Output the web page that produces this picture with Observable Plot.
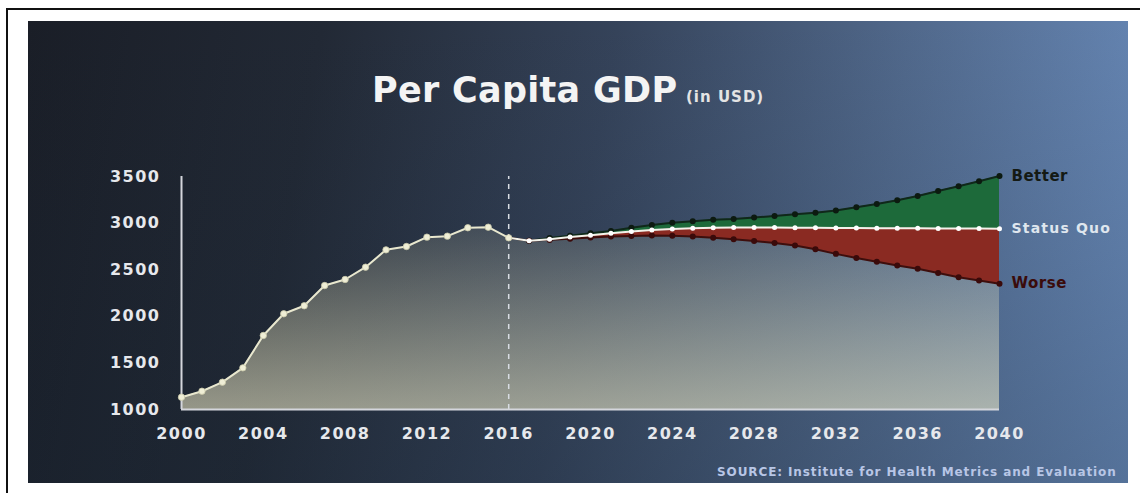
<!DOCTYPE html>
<html>
<head>
<meta charset="utf-8">
<script src="https://cdn.jsdelivr.net/npm/d3@7"></script>
<script src="https://cdn.jsdelivr.net/npm/@observablehq/plot@0.6"></script>
<style>
  html, body { margin: 0; padding: 0; background: #ffffff; }
  #page { position: relative; width: 1140px; height: 493px; overflow: hidden; background: #fff; }
  #frame { position: absolute; left: 6px; top: 8px; width: 1140px; height: 490px; border-top: 2px solid #111; border-left: 2px solid #111; }
  #panel { position: absolute; left: 28px; top: 21px; width: 1100px; height: 462px;
    background: linear-gradient(100deg, #1a1e27 0%, #222935 25%, #35435a 50%, #51698c 75%, #6a8cbc 100%); }
  #panel2 { position: absolute; left: 28px; top: 21px; width: 1100px; height: 462px;
    background: linear-gradient(180deg, rgba(0,0,0,0) 0%, rgba(20,35,50,0.25) 100%); }
  #chart { position: absolute; left: 0; top: 0; }
  .txt { position: absolute; white-space: nowrap; font-family: "DejaVu Sans", sans-serif; line-height: 1; }
</style>
</head>
<body>
<div id="page">
  <div id="frame"></div>
  <div id="panel"></div>
  <div id="panel2"></div>
  <div id="chart"></div>
  <div class="txt" style="left:372px; top:73px; font-size:35px; font-weight:bold; color:#f4f4f4; letter-spacing:0.3px;">Per Capita GDP</div>
  <div class="txt" style="left:686px; top:90px; font-size:15px; font-weight:bold; color:#e4e4e4; letter-spacing:1px;">(in USD)</div>
  <div class="txt" style="left:717px; top:466px; font-size:12px; font-weight:bold; color:#b8c6e6; letter-spacing:0.9px;">SOURCE: Institute for Health Metrics and Evaluation</div>
</div>
<script>
// Historical data
const histYears = [2000,2001,2002,2003,2004,2005,2006,2007,2008,2009,2010,2011,2012,2013,2014,2015,2016];
const histGDP   = [1132,1196,1293,1447,1794,2027,2113,2330,2395,2527,2713,2749,2849,2860,2950,2956,2842];

// Forecast scenarios
const fcYears   = [2016,2017,2018,2019,2020,2021,2022,2023,2024,2025,2026,2027,2028,2029,2030,2031,2032,2033,2034,2035,2036,2037,2038,2039,2040];
const better    = [2842,2810,2840,2865,2890,2915,2950,2980,3005,3020,3035,3045,3060,3075,3095,3110,3135,3170,3205,3245,3290,3345,3395,3450,3505];
const statusQuo = [2842,2810,2828,2850,2870,2890,2910,2925,2937,2945,2950,2953,2953,2952,2950,2949,2948,2947,2946,2945,2944,2943,2942,2941,2940];
const worse     = [2842,2810,2820,2833,2845,2855,2862,2866,2864,2856,2844,2828,2808,2786,2760,2720,2670,2625,2585,2545,2510,2465,2420,2385,2350];

const yTicks = [1000,1500,2000,2500,3000,3500];
const xTicks = [2000,2004,2008,2012,2016,2020,2024,2028,2032,2036,2040];
const scenarioLabels = ["Better","Status Quo","Worse"];
const dividerYear = [2016];

const hist = histYears.map((year, i) => ({year, v: histGDP[i]}));
const fc = fcYears.map((year, i) => ({year, better: better[i], sq: statusQuo[i], worse: worse[i]}));
const under = hist.concat(fc.slice(1).map(d => ({year: d.year, v: d.worse})));
const last = fc[fc.length - 1];
const labels = [
  {year: last.year, v: last.better, t: scenarioLabels[0], c: "#141a14", ls: "0.5px"},
  {year: last.year, v: last.sq, t: scenarioLabels[1], c: "#dfe6ee", ls: "1.2px"},
  {year: last.year, v: last.worse, t: scenarioLabels[2], c: "#3a0b0b", ls: "0.5px"}
];

const plot = Plot.plot({
  width: 1140,
  height: 493,
  marginLeft: 181,
  marginRight: 141,
  marginTop: 176,
  marginBottom: 84,
  style: {background: "transparent", color: "#e4e6ea", fontFamily: "DejaVu Sans, sans-serif"},
  x: {domain: [2000, 2040], ticks: xTicks, tickFormat: d => String(d)},
  y: {domain: [1000, 3500], ticks: yTicks, tickFormat: d => String(d)},
  marks: [
    Plot.areaY(under, {x: "year", y1: 1000, y2: "v", fill: "url(#underGrad)", curve: "linear"}),
    Plot.areaY(fc, {x: "year", y1: "sq", y2: "better", fill: "#1d6a3a"}),
    Plot.areaY(fc, {x: "year", y1: "worse", y2: "sq", fill: "#8a2a22"}),
    Plot.ruleX(dividerYear, {y1: 1000, y2: 3500, stroke: "#d8dce2", strokeWidth: 1.5, strokeDasharray: "5,5"}),
    Plot.ruleX([2000], {y1: 1000, y2: 3500, stroke: "#d4d6dc", strokeWidth: 2}),
    Plot.ruleY([1000], {x1: 2000, x2: 2040, stroke: "#d4d6dc", strokeWidth: 2}),
    Plot.line(fc, {x: "year", y: "better", stroke: "#10281a", strokeWidth: 2}),
    Plot.dot(fc.slice(1), {x: "year", y: "better", r: 3, fill: "#0c1a10"}),
    Plot.line(fc, {x: "year", y: "worse", stroke: "#3e0e0c", strokeWidth: 2}),
    Plot.dot(fc.slice(1), {x: "year", y: "worse", r: 3, fill: "#3a0a0a"}),
    Plot.line(fc, {x: "year", y: "sq", stroke: "#f2f2ea", strokeWidth: 2}),
    Plot.dot(fc.slice(1), {x: "year", y: "sq", r: 2.5, fill: "#ffffff"}),
    Plot.line(hist, {x: "year", y: "v", stroke: "#e9e8cf", strokeWidth: 2}),
    Plot.dot(hist, {x: "year", y: "v", r: 3.2, fill: "#efeed6", stroke: "#c9c8a8", strokeWidth: 0.8}),
    Plot.text(labels, {x: "year", y: "v", text: "t", fill: "c", dx: 12, textAnchor: "start",
      fontSize: d => d.t === "Status Quo" ? 14 : 15, fontWeight: "bold"}),
    Plot.axisY({ticks: yTicks, tickSize: 0, tickPadding: 21, fontSize: 16, fontWeight: "bold", fill: "#e6e8ec", label: null, tickFormat: d => String(d)}),
    Plot.axisX({ticks: xTicks, tickSize: 0, tickPadding: 18, fontSize: 16, fontWeight: "bold", fill: "#e6e8ec", label: null, tickFormat: d => String(d)})
  ]
});

const svg = d3.select(plot);
const defs = svg.insert("defs", ":first-child");
const g = defs.append("linearGradient").attr("id", "underGrad")
  .attr("gradientUnits", "userSpaceOnUse").attr("x1", 0).attr("y1", 215).attr("x2", 0).attr("y2", 409);
g.append("stop").attr("offset", "0%").attr("stop-color", "#e6e2bc").attr("stop-opacity", 0.1);
g.append("stop").attr("offset", "100%").attr("stop-color", "#ece8c6").attr("stop-opacity", 0.58);
svg.selectAll("[aria-label='y-axis tick label'] text, [aria-label='x-axis tick label'] text").style("letter-spacing", "1.5px");
svg.selectAll("[aria-label='text'] text").each(function(d, i) {
  const t = this.textContent;
  const lab = labels.find(l => l.t === t);
  if (lab) this.style.letterSpacing = lab.ls;
});
document.getElementById("chart").appendChild(plot);
</script>
</body>
</html>
